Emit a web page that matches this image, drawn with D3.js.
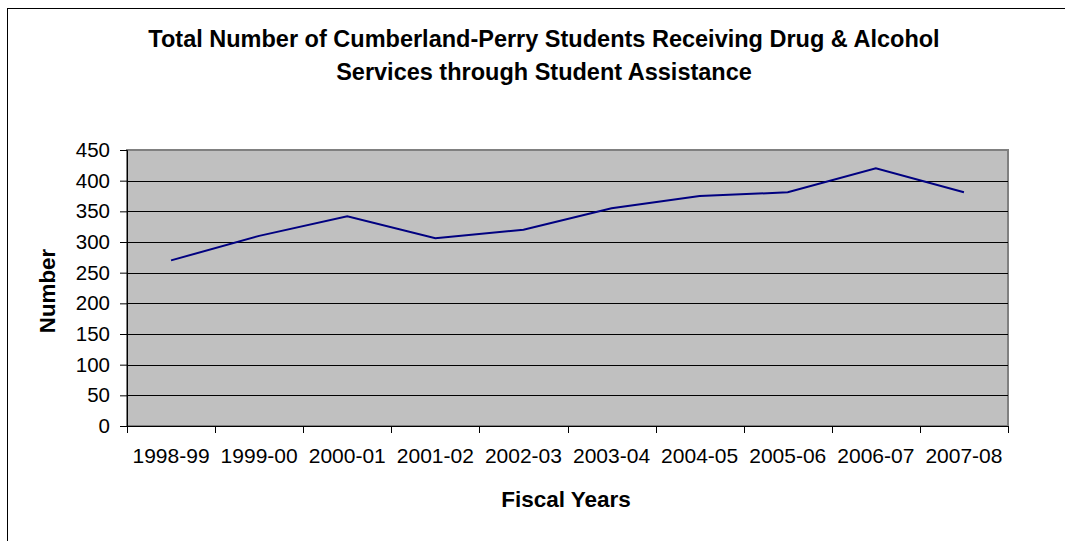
<!DOCTYPE html>
<html>
<head>
<meta charset="utf-8">
<script src="https://cdn.jsdelivr.net/npm/d3@7"></script>
<style>
  html, body { margin: 0; padding: 0; background: #fff; }
  svg { display: block; font-family: "Liberation Sans", Arial, sans-serif; }
</style>
</head>
<body>
<svg id="chart" width="1065" height="541"></svg>
<script>
const categories = ["1998-99","1999-00","2000-01","2001-02","2002-03","2003-04","2004-05","2005-06","2006-07","2007-08"];
const values = [270, 310, 342, 306, 320, 355, 375, 381, 420, 381];
const yTicks = [0, 50, 100, 150, 200, 250, 300, 350, 400, 450];
const titleLines = ["Total Number of Cumberland-Perry Students Receiving Drug & Alcohol", "Services through Student Assistance"];
const xTitle = "Fiscal Years";
const yTitle = "Number";

const svg = d3.select("#chart");
const L = 127, R = 1008, T = 150, B = 426;

// outer frame (only left/top visible)
svg.append("rect").attr("x", 7.5).attr("y", 8.5).attr("width", 1100).attr("height", 600)
  .attr("fill", "none").attr("stroke", "#000").attr("stroke-width", 1);

const x = d3.scaleBand().domain(categories).range([L, R]).padding(0);
const y = d3.scaleLinear().domain([0, 450]).range([B, T]);

// plot area
svg.append("rect").attr("x", L).attr("y", T).attr("width", R - L).attr("height", B - T)
  .attr("fill", "#C0C0C0").attr("stroke", "#808080").attr("stroke-width", 2);

// gridlines
svg.append("g").selectAll("line").data(yTicks.filter(d => d > 0 && d < 450)).join("line")
  .attr("x1", L).attr("x2", R).attr("y1", d => Math.round(y(d)) + 0.5).attr("y2", d => Math.round(y(d)) + 0.5)
  .attr("stroke", "#000").attr("stroke-width", 1);

// y axis
const yAxis = svg.append("g").attr("transform", `translate(${L},0)`)
  .call(d3.axisLeft(y).tickValues(yTicks).tickSize(7).tickPadding(10).tickFormat(d3.format("d")));
yAxis.select(".domain").attr("stroke", "#000");
yAxis.selectAll("text").attr("font-size", 20.5).attr("fill", "#000").style("font-family", "Liberation Sans, Arial, sans-serif");

// x axis with ticks at category boundaries
const xAxisG = svg.append("g").attr("transform", `translate(0,${B})`);
xAxisG.append("line").attr("x1", L).attr("x2", R).attr("y1", 0.5).attr("y2", 0.5).attr("stroke", "#000");
const bounds = categories.map(c => x(c)).concat([x(categories[categories.length - 1]) + x.bandwidth()]);
xAxisG.selectAll("line.tk").data(bounds).join("line").attr("class", "tk")
  .attr("x1", d => Math.round(d) + 0.5).attr("x2", d => Math.round(d) + 0.5).attr("y1", 0).attr("y2", 7).attr("stroke", "#000");
xAxisG.selectAll("text").data(categories).join("text")
  .attr("x", d => x(d) + x.bandwidth() / 2).attr("y", 37)
  .attr("text-anchor", "middle").attr("font-size", 21).attr("fill", "#000").text(d => d);

// line
const line = d3.line().x((d, i) => x(categories[i]) + x.bandwidth() / 2).y(d => y(d));
svg.append("path").datum(values).attr("d", line).attr("fill", "none")
  .attr("stroke", "#000080").attr("stroke-width", 2).attr("stroke-linejoin", "miter");

// titles
svg.append("g").selectAll("text").data(titleLines).join("text")
  .attr("x", 544).attr("y", (d, i) => 47 + i * 32.7).attr("text-anchor", "middle")
  .attr("font-size", 23.5).attr("font-weight", "bold").attr("fill", "#000").text(d => d);

svg.append("text").attr("x", 566).attr("y", 507).attr("text-anchor", "middle")
  .attr("font-size", 22.5).attr("font-weight", "bold").attr("fill", "#000").text(xTitle);

svg.append("text").attr("transform", "translate(55,291) rotate(-90)").attr("text-anchor", "middle")
  .attr("font-size", 22.3).attr("font-weight", "bold").attr("fill", "#000").text(yTitle);
</script>
</body>
</html>
